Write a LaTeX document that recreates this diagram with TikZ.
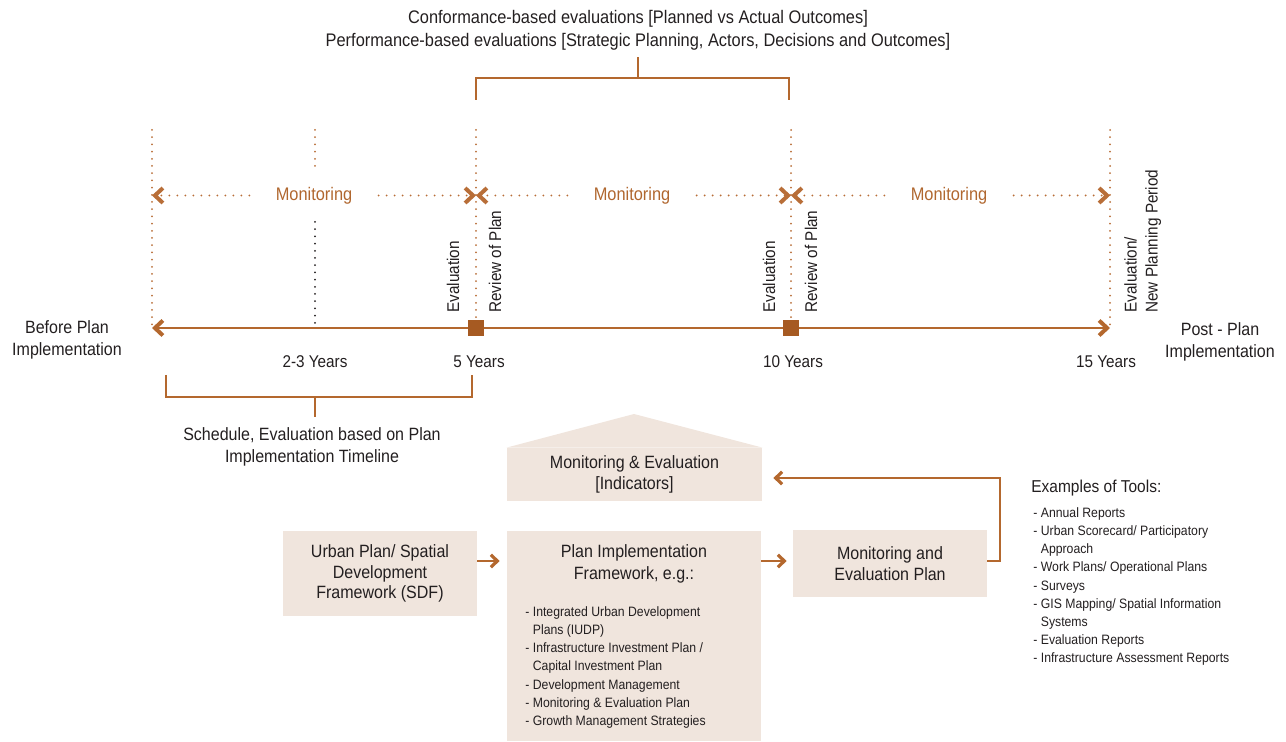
\documentclass[tikz,border=0pt]{standalone}
\usepackage{fontspec}
\setmainfont{Liberation Sans}[FakeStretch=0.9]
\usetikzlibrary{arrows.meta,positioning}
\definecolor{ink}{HTML}{231F20}
\definecolor{lineOrange}{HTML}{B4682E}
\definecolor{dotOrange}{HTML}{B86E38}
\definecolor{markOrange}{HTML}{A65A22}
\definecolor{monitorText}{HTML}{B0672F}
\definecolor{boxFill}{HTML}{F0E5DD}
\tikzset{
  main text/.style={
    font=\fontsize{8.9}{11}\selectfont,
    text=ink,
    align=center,
    inner sep=0pt
  },
  year label/.style={
    main text,
    font=\fontsize{8.5}{10.5}\selectfont
  },
  side label/.style={
    year label,
    rotate=90,
    align=left
  },
  list text/.style={
    font=\fontsize{6.8}{9.1}\selectfont,
    text=ink,
    align=left,
    inner sep=0pt
  },
  monitor text/.style={
    font=\fontsize{9.1}{11}\selectfont,
    text=monitorText,
    inner xsep=13pt,
    inner ysep=0pt
  },
  plan box/.style={
    fill=boxFill,
    main text,
    font=\fontsize{8.9}{10.3}\selectfont
  },
  guide dots/.style={
    draw=dotOrange,
    line width=1pt,
    line cap=round,
    dash pattern=on 0pt off 3.6pt
  },
  black dots/.style={
    guide dots,
    draw=ink
  },
  monitor arrow/.style={
    draw=dotOrange,
    line width=1.1pt,
    line cap=round,
    dash pattern=on 0pt off 4pt,
    -{Straight Barb[length=4pt,width=7.5pt,line width=2pt]}
  },
  time line/.style={
    draw=lineOrange,
    line width=1pt,
    {Straight Barb[length=4pt,width=7.5pt,line width=2pt]}-{Straight Barb[length=4pt,width=7.5pt,line width=2pt]}
  },
  bracket line/.style={
    draw=lineOrange,
    line width=0.6pt
  },
  milestone/.style={
    fill=markOrange,
    minimum size=8pt,
    inner sep=0pt
  },
  flow arrow/.style={
    -{Straight Barb[length=3.2pt,width=6.2pt,line width=1.6pt]},
    draw=lineOrange,
    line width=0.9pt
  }
}
\begin{document}
\begin{tikzpicture}[x=0.5pt,y=-0.5pt]
  \useasboundingbox (0,0) rectangle (1286,742);

  % evaluation headings and bracket
  \node[main text,font=\fontsize{9.1}{11.5}\selectfont] (conform) at (638,30) {
    Conformance-based evaluations [Planned vs Actual Outcomes]\\
    Performance-based evaluations [Strategic Planning, Actors, Decisions and Outcomes]
  };
  \draw[bracket line] (476,100) -- (476,78) -- (789,78) -- (789,100);
  \draw[bracket line] (638,78) -- (638,57);

  % timeline ticks
  \coordinate (t0) at (152,328);
  \coordinate (t23) at (315,328);
  \coordinate (t5) at (476,328);
  \coordinate (t10) at (791,328);
  \coordinate (t15) at (1110,328);

  \draw[guide dots] (152,130) -- (t0);
  \draw[guide dots] (315,130) -- (315,172);
  \draw[black dots] (315,222) -- (t23);
  \draw[guide dots] (476,130) -- (476,318);
  \draw[guide dots] (791,130) -- (791,318);
  \draw[guide dots] (1110,130) -- (t15);

  % monitoring periods
  \node[monitor text] (mon1) at (314,195.5) {Monitoring};
  \node[monitor text] (mon2) at (632,195.5) {Monitoring};
  \node[monitor text] (mon3) at (949,195.5) {Monitoring};
  \draw[monitor arrow] (mon1.west) -- (t0 |- mon1);
  \draw[monitor arrow] (mon1.east) -- (t5 |- mon1);
  \draw[monitor arrow] (mon2.west) -- (t5 |- mon2);
  \draw[monitor arrow] (mon2.east) -- (t10 |- mon2);
  \draw[monitor arrow] (mon3.west) -- (t10 |- mon3);
  \draw[monitor arrow] (mon3.east) -- (t15 |- mon3);

  % main time axis
  \draw[time line] (t0) -- (t15);
  \node[milestone] (m5) at (t5) {};
  \node[milestone] (m10) at (t10) {};

  \node[side label,anchor=west] (eval5) at (453,313) {Evaluation};
  \node[side label,anchor=west] (review5) at (495,313) {Review of Plan};
  \node[side label,anchor=west] (eval10) at (769,313) {Evaluation};
  \node[side label,anchor=west] (review10) at (811,313) {Review of Plan};
  \node[side label,anchor=north west] (eval15) at (1124,313) {Evaluation/\\New Planning Period};

  \node[year label] (y23) at (315,362) {2-3 Years};
  \node[year label] (y5) at (479,362) {5 Years};
  \node[year label] (y10) at (793,362) {10 Years};
  \node[year label] (y15) at (1106,362) {15 Years};

  \node[main text] (before) at (67,340) {Before Plan\\Implementation};
  \node[main text] (post) at (1220,342) {Post - Plan\\Implementation};

  % schedule bracket
  \draw[bracket line] (166,375) -- (166,397) -- (472,397) -- (472,375);
  \draw[bracket line] (315,397) -- (315,417);
  \node[main text] (schedule) at (312,447) {Schedule, Evaluation based on Plan\\Implementation Timeline};

  % framework boxes
  \node[plan box,minimum width=127.5pt,minimum height=26.5pt] (indicators) at (634.5,474.5) {Monitoring \& Evaluation\\{[}Indicators{]}};
  \fill[boxFill] (indicators.north west) -- (634,414) -- (indicators.north east) -- cycle;

  \node[plan box,minimum width=97pt,minimum height=42.5pt] (sdf) at (380,573.5) {Urban Plan/ Spatial\\Development\\Framework (SDF)};
  \node[plan box,minimum width=127pt,minimum height=105pt] (impl) at (634,636) {};
  \node[main text] (impltitle) at (634,564) {Plan Implementation\\Framework, e.g.:};
  \node[list text,anchor=north west] (impllist) at (525,606) {
    - Integrated Urban Development\\
    \phantom{- }Plans (IUDP)\\
    - Infrastructure Investment Plan /\\
    \phantom{- }Capital Investment Plan\\
    - Development Management\\
    - Monitoring \& Evaluation Plan\\
    - Growth Management Strategies
  };
  \node[plan box,minimum width=97pt,minimum height=33.5pt] (meplan) at (890,563.5) {Monitoring and\\Evaluation Plan};

  \coordinate (flowrow) at (0,561);
  \coordinate (loopcorner) at (1000,478);
  \draw[flow arrow,shorten >=3.5pt] (sdf.east |- flowrow) -- (impl.west |- flowrow);
  \draw[flow arrow,shorten >=3pt] (impl.east |- flowrow) -- (meplan.west |- flowrow);
  \draw[flow arrow,shorten >=5.5pt] (meplan.east |- flowrow) -| (loopcorner) -- (indicators.east |- loopcorner);

  % tools
  \node[main text,anchor=west,font=\fontsize{8.6}{10.5}\selectfont] (toolshead) at (1031,488) {Examples of Tools:};
  \node[list text,anchor=north west] (toolslist) at (1033,507) {
    - Annual Reports\\
    - Urban Scorecard/ Participatory\\
    \phantom{- }Approach\\
    - Work Plans/ Operational Plans\\
    - Surveys\\
    - GIS Mapping/ Spatial Information\\
    \phantom{- }Systems\\
    - Evaluation Reports\\
    - Infrastructure Assessment Reports
  };
\end{tikzpicture}
\end{document}
